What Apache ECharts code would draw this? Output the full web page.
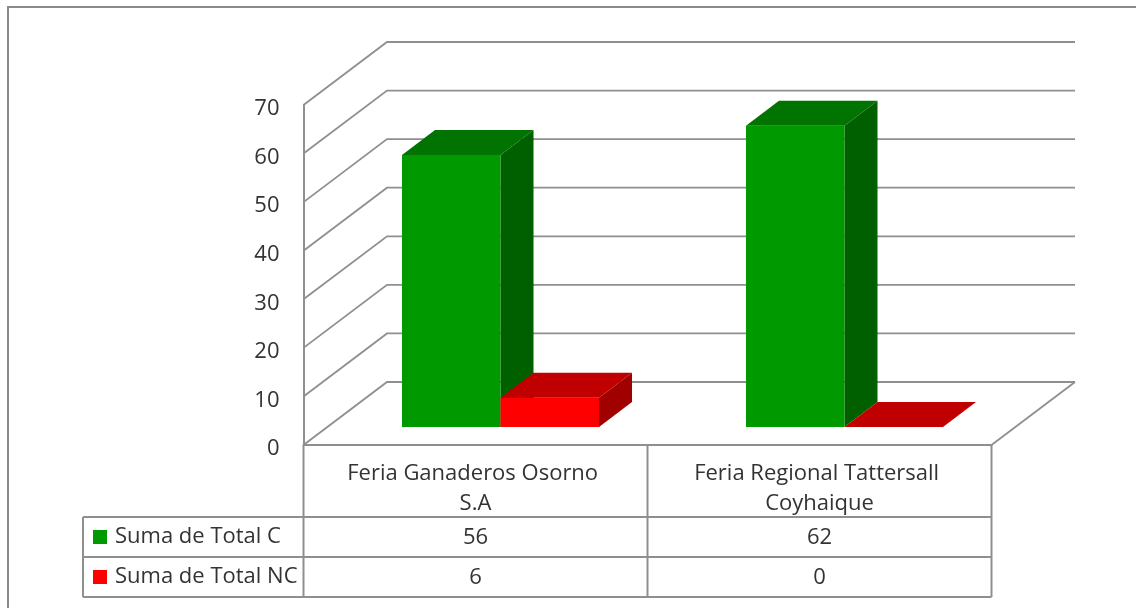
<!DOCTYPE html>
<html>
<head>
<meta charset="utf-8">
<style>
  html, body { margin: 0; padding: 0; background: #fff; }
  #main { width: 1136px; height: 608px; }
</style>
<script src="https://cdn.jsdelivr.net/npm/echarts@6/dist/echarts.min.js"></script>
</head>
<body>
<div id="main"></div>
<script>
var categories = ['Feria Ganaderos Osorno S.A', 'Feria Regional Tattersall Coyhaique'];
var totalC = [56, 62];
var totalNC = [6, 0];
var yTicks = [0, 10, 20, 30, 40, 50, 60, 70];

var lineColor = '#8f8f8f';
var textColor = '#333';
var fontName = '"Open Sans", sans-serif';
var fontSize = 22;

// profundidad del piso y de las barras (pseudo 3D)
var depthX = 83.5, depthY = -63;
var barDepthX = 33, barDepthY = -25;
var barOffX = 25, barOffY = -18;
var barW = 98.5;

function poly(points, color) {
  return { type: 'polygon', shape: { points: points }, style: { fill: color } };
}

function wallItem(params, api) {
  var g = params.coordSys;
  var y = api.coord([0, api.value(1)])[1];
  var x0 = g.x, x1 = g.x + g.width;
  var kids = [{
    type: 'polyline',
    shape: { points: [[x0, y], [x0 + depthX, y + depthY], [x1 + depthX, y + depthY]] },
    style: { stroke: lineColor, lineWidth: 1.8, fill: null }
  }];
  if (api.value(1) === 0) {
    kids.push({
      type: 'line',
      shape: { x1: x1, y1: y, x2: x1 + depthX, y2: y + depthY },
      style: { stroke: lineColor, lineWidth: 1.8 }
    });
  }
  return { type: 'group', children: kids };
}

// side: -1 barra izquierda, 0 derecha
function barItem(side, colors, rowY) {
  return function (params, api) {
    var cat = api.value(0), val = api.value(1);
    var base = api.coord([cat, 0]);
    var top = api.coord([cat, val]);
    var left = base[0] + barOffX + side * barW;
    var right = left + barW;
    var by = base[1] + barOffY;
    var ty = top[1] + barOffY;
    var dx = barDepthX, dy = barDepthY;
    var kids = [];
    if (val > 0) {
      kids.push(poly([[right, ty], [right + dx, ty + dy], [right + dx, by + dy], [right, by]], colors.side));
      kids.push(poly([[left, by], [right, by], [right, ty], [left, ty]], colors.front));
    }
    kids.push(poly([[left, ty], [left + dx, ty + dy], [right + dx, ty + dy], [right, ty]], colors.top));
    kids.push({
      type: 'text',
      style: {
        text: String(val), x: base[0], y: rowY, align: 'center', verticalAlign: 'middle',
        fill: textColor, font: fontSize + 'px ' + fontName
      }
    });
    return { type: 'group', children: kids };
  };
}

function toPairs(arr) {
  return arr.map(function (v, i) { return [i, v]; });
}

// lineas de la tabla de datos
var tableLines = [
  [303.5, 445, 303.5, 597], [647.5, 445, 647.5, 597], [991.5, 445, 991.5, 597], [83, 517, 83, 597],
  [83, 517, 991.5, 517], [83, 557, 991.5, 557], [83, 597, 991.5, 597]
].map(function (l) {
  return {
    type: 'line',
    shape: { x1: l[0], y1: l[1], x2: l[2], y2: l[3] },
    style: { stroke: lineColor, lineWidth: 2 },
    z: 5
  };
});

var chart = echarts.init(document.getElementById('main'));
chart.setOption({
  animation: false,
  backgroundColor: '#fff',
  grid: { left: 303.5, right: 144.5, top: 105, bottom: 163 },
  legend: {
    data: ['Suma de Total C', 'Suma de Total NC'],
    orient: 'vertical', left: 93, top: 526, padding: 0, itemGap: 18,
    itemWidth: 14, itemHeight: 14, icon: 'rect', selectedMode: false,
    textStyle: { color: textColor, fontSize: fontSize, fontFamily: fontName, padding: [0, 0, 0, 3] }
  },
  xAxis: {
    type: 'category',
    data: categories,
    axisLine: { lineStyle: { color: lineColor, width: 2 } },
    axisTick: { show: false },
    axisLabel: {
      color: textColor, fontSize: fontSize, fontFamily: fontName, margin: 14,
      width: 262, overflow: 'break', lineHeight: 30, interval: 0
    }
  },
  yAxis: {
    type: 'value', min: 0, max: 70, interval: 10,
    axisLine: { show: true, lineStyle: { color: lineColor, width: 2 } },
    axisTick: { show: false },
    splitLine: { show: false },
    axisLabel: {
      color: textColor, fontSize: fontSize, fontFamily: fontName, margin: 24,
      verticalAlign: 'top', lineHeight: 8
    }
  },
  graphic: [{
    type: 'rect',
    shape: { x: 8, y: 7, width: 1140, height: 620 },
    style: { fill: null, stroke: '#8a8a8a', lineWidth: 2 }
  }].concat(tableLines),
  series: [
    {
      type: 'custom', name: 'paredes', coordinateSystem: 'cartesian2d', z: 1, silent: true,
      clip: false, data: yTicks.map(function (t) { return [0, t]; }), renderItem: wallItem
    },
    {
      type: 'custom', name: 'Suma de Total C', coordinateSystem: 'cartesian2d', z: 2, silent: true,
      clip: false, itemStyle: { color: '#009900' }, data: toPairs(totalC),
      renderItem: barItem(-1, { front: '#009900', top: '#007300', side: '#006000' }, 538)
    },
    {
      type: 'custom', name: 'Suma de Total NC', coordinateSystem: 'cartesian2d', z: 3, silent: true,
      clip: false, itemStyle: { color: '#ff0000' }, data: toPairs(totalNC),
      renderItem: barItem(0, { front: '#ff0000', top: '#c00000', side: '#a00000' }, 578)
    }
  ]
});
</script>
</body>
</html>
